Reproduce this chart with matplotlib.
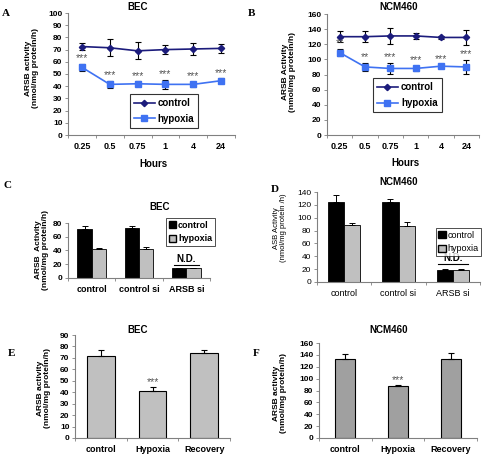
"""ARSB activity under hypoxia: six-panel figure (A-F)."""
import numpy as np
import matplotlib
matplotlib.use("Agg")
import matplotlib.pyplot as plt
from matplotlib.patches import Patch
from matplotlib.lines import Line2D

plt.rcParams["font.family"] = ["Liberation Sans", "DejaVu Sans"]
plt.rcParams["font.weight"] = "bold"

W, H = 484, 459

# ---- data -------------------------------------------------------------
hours = ["0.25", "0.5", "0.75", "1", "4", "24"]

bec_ctrl = [72.5, 71.5, 69, 70, 70.5, 71]
bec_ctrl_err = [3, 7, 7, 4, 5, 4]
bec_hyp = [55.5, 41.5, 42, 41.5, 41.5, 44.5]
bec_hyp_err = [3, 3, 2, 3.5, 2, 2]
bec_stars = ["***"] * 6

ncm_ctrl = [130, 130, 131, 131, 129, 129]
ncm_ctrl_err = [7, 7, 11, 4, 2, 10]
ncm_hyp = [109, 90, 88, 88, 91, 90]
ncm_hyp_err = [5, 5, 7, 3, 2, 9]
ncm_stars = ["**", "**", "***", "***", "***", "***"]

si_groups = ["control", "control si", "ARSB si"]
c_ctrl = [71, 72, 14]
c_ctrl_err = [4, 3, 1]
c_hyp = [42, 42, 14]
c_hyp_err = [2, 3, 1]

d_ctrl = [125, 124, 19]
d_ctrl_err = [10, 5, 1]
d_hyp = [88, 87, 19]
d_hyp_err = [4, 7, 2]

rec_groups = ["control", "Hypoxia", "Recovery"]
e_vals = [72, 41, 74]
e_err = [5, 4, 3]
f_vals = [133, 87, 133]
f_err = [9, 3, 11]
rec_stars = ["", "***", ""]

CTRL_C = "#1c1c7c"
HYP_C = "#3f72f2"
AX_C = "#808080"
STAR_C = "#555555"

fig = plt.figure(figsize=(W / 100, H / 100), dpi=100)


def ax_px(l, t, r, b):
    return fig.add_axes([l / W, 1 - b / H, (r - l) / W, (b - t) / H])


def ftext(x, y, s, **kw):
    fig.text(x / W, 1 - y / H, s, **kw)


def style(ax, ymax, step, n, weight="bold", ticks_mid=False):
    ax.set_ylim(0, ymax)
    ax.set_yticks(np.arange(0, ymax + 1, step))
    ax.set_xlim(-0.5, n - 0.5)
    for s in ("top", "right"):
        ax.spines[s].set_visible(False)
    for s in ("left", "bottom"):
        ax.spines[s].set_color(AX_C)
        ax.spines[s].set_linewidth(0.8)
    ax.tick_params(axis="y", length=2.5, width=0.6, color=AX_C, labelsize=6, pad=1.5)
    ax.tick_params(axis="x", length=0, labelsize=6, pad=5)
    for lab in ax.get_yticklabels() + ax.get_xticklabels():
        lab.set_fontweight(weight)
    # category-boundary ticks (Excel style)
    bounds = np.arange(-0.5, n, 1.0 if not ticks_mid else 0.5)
    ax.set_xticks(bounds, minor=True)
    ax.tick_params(axis="x", which="minor", length=2.5, width=0.6, color=AX_C)


def line_panel(box, ctrl, ce, hyp, he, stars, ymax, step, mid, leg_anchor):
    ax = ax_px(*box)
    x = np.arange(len(hours))
    ax.errorbar(x, ctrl, yerr=ce, color=CTRL_C, marker="D", ms=3.2, lw=1.2,
                ecolor="black", elinewidth=0.8, capsize=2.5, capthick=0.8)
    ax.errorbar(x, hyp, yerr=he, color=HYP_C, marker="s", ms=3.8, lw=1.2,
                ecolor="black", elinewidth=0.8, capsize=2.5, capthick=0.8)
    for xi, v, e, s in zip(x, hyp, he, stars):
        ax.text(xi, v + e + ymax * 0.005, s, ha="center", va="bottom",
                fontsize=7.5, color=STAR_C, fontweight="normal")
    style(ax, ymax, step, len(hours), ticks_mid=mid)
    ax.set_xticks(x)
    ax.set_xticklabels(hours, fontsize=6.5, fontweight="bold")
    handles = [Line2D([], [], color=CTRL_C, marker="D", ms=3.2, lw=1.2),
               Line2D([], [], color=HYP_C, marker="s", ms=3.8, lw=1.2)]
    leg = ax.legend(handles, ["control", "hypoxia"], loc="lower left",
                    bbox_to_anchor=leg_anchor, fontsize=7, frameon=True,
                    fancybox=False, edgecolor="black", handlelength=2.2,
                    borderpad=0.4, labelspacing=0.6, handletextpad=0.3)
    leg.get_frame().set_linewidth(0.8)
    for t in leg.get_texts():
        t.set_fontweight("bold")
    return ax


def grouped_panel(box, ctrl, ce, hyp, he, ymax, step, weight, leg_kw):
    ax = ax_px(*box)
    x = np.arange(len(si_groups))
    w = 0.3
    ax.bar(x - w / 2, ctrl, w, color="black", edgecolor="black", lw=0.6,
           yerr=[np.zeros(len(ce)), ce], capsize=2.2,
           error_kw=dict(elinewidth=0.7, capthick=0.7))
    ax.bar(x + w / 2, hyp, w, color="#c0c0c0", edgecolor="black", lw=0.6,
           yerr=[np.zeros(len(he)), he], capsize=2.2,
           error_kw=dict(elinewidth=0.7, capthick=0.7))
    style(ax, ymax, step, len(si_groups), weight=weight)
    ax.set_xticks(x)
    ax.set_xticklabels(si_groups, fontsize=6.5, fontweight=weight)
    # N.D. over the last group
    i = len(si_groups) - 1
    top = max(ctrl[i] + ce[i], hyp[i] + he[i])
    ax.text(i, top + ymax * 0.06, "N.D.", ha="center", va="bottom",
            fontsize=7, fontweight="bold")
    ax.plot([i - w * 0.9, i + w * 0.9], [top + ymax * 0.05] * 2,
            color="black", lw=0.8)
    handles = [Patch(facecolor="black", edgecolor="black"),
               Patch(facecolor="#c0c0c0", edgecolor="black")]
    leg = ax.legend(handles, ["control", "hypoxia"], fontsize=6.5,
                    frameon=True, fancybox=False, edgecolor="black",
                    handlelength=0.8, handleheight=0.8, handletextpad=0.2,
                    borderpad=0.3, labelspacing=0.5, **leg_kw)
    leg.get_frame().set_linewidth(0.6)
    for t in leg.get_texts():
        t.set_fontweight(weight)
    return ax


def single_panel(box, vals, err, color, width, ymax, step):
    ax = ax_px(*box)
    x = np.arange(len(rec_groups))
    ax.bar(x, vals, width, color=color, edgecolor="black", lw=0.8,
           yerr=[np.zeros(len(err)), err], capsize=2.5,
           error_kw=dict(elinewidth=0.8, capthick=0.8))
    for xi, v, e, s in zip(x, vals, err, rec_stars):
        ax.text(xi, v + e - ymax * 0.01, s, ha="center", va="bottom",
                fontsize=7.5, color=STAR_C, fontweight="normal")
    style(ax, ymax, step, len(rec_groups))
    ax.set_xticks(x)
    ax.set_xticklabels(rec_groups, fontsize=6.5, fontweight="bold")
    return ax


# ---- panels -------------------------------------------------------------
line_panel((68, 13, 235, 135), bec_ctrl, bec_ctrl_err, bec_hyp, bec_hyp_err,
           bec_stars, 100, 10, False, (0.34, 0.02))
line_panel((327, 14, 479, 135), ncm_ctrl, ncm_ctrl_err, ncm_hyp, ncm_hyp_err,
           ncm_stars, 160, 20, True, (0.27, 0.15))
grouped_panel((68, 223, 210, 278), c_ctrl, c_ctrl_err, c_hyp, c_hyp_err,
              80, 20, "bold",
              dict(loc="upper left", bbox_to_anchor=(0.66, 1.17)))
grouped_panel((317, 192, 480, 282), d_ctrl, d_ctrl_err, d_hyp, d_hyp_err,
              140, 20, "normal",
              dict(loc="upper left", bbox_to_anchor=(0.7, 0.65)))
single_panel((75, 335, 230, 438), e_vals, e_err, "#c0c0c0", 0.54, 90, 10)
single_panel((319, 343, 477, 438), f_vals, f_err, "#a0a0a0", 0.38, 160, 20)

# ---- titles, axis labels, panel letters ---------------------------------
tk = dict(ha="center", va="center", fontsize=7, fontweight="bold")
ftext(138, 7, "BEC", **tk)
ftext(399, 7, "NCM460", **tk)
ftext(160, 207, "BEC", **tk)
ftext(399, 182, "NCM460", **tk)
ftext(138, 330, "BEC", **tk)
ftext(389, 330, "NCM460", **tk)
ftext(153, 164, "Hours", **tk)
ftext(405, 163, "Hours", **tk)

yk = dict(ha="center", va="center", rotation=90, fontsize=6,
          fontweight="bold", linespacing=1.1)
ftext(32, 68, "ARSB activity\n(nmol/mg protein/h)", **yk)
ftext(289, 72, "ARSB Activity\n(nmol/mg protein/h)", **yk)
ftext(42, 250, "ARSB  Activity\n(nmol/mg protein/h)", **yk)
ftext(280, 228, "ASB Activity\n(nmol/mg protein /h)",
      **{**yk, "fontweight": "normal", "fontsize": 5.5})
ftext(44, 388, "ARSB activity\n(nmol/mg protein/h)", **yk)
ftext(280, 393, "ARSB activity\n(nmol/mg protein/h)", **yk)

lk = dict(ha="center", va="center", fontsize=8, fontweight="bold",
          family=["Liberation Serif", "DejaVu Serif"])
ftext(6, 13, "A", **lk)
ftext(251, 13, "B", **lk)
ftext(8, 185, "C", **lk)
ftext(275, 190, "D", **lk)
ftext(12, 353, "E", **lk)
ftext(256, 353, "F", **lk)

fig.savefig("out.png", dpi=100)
